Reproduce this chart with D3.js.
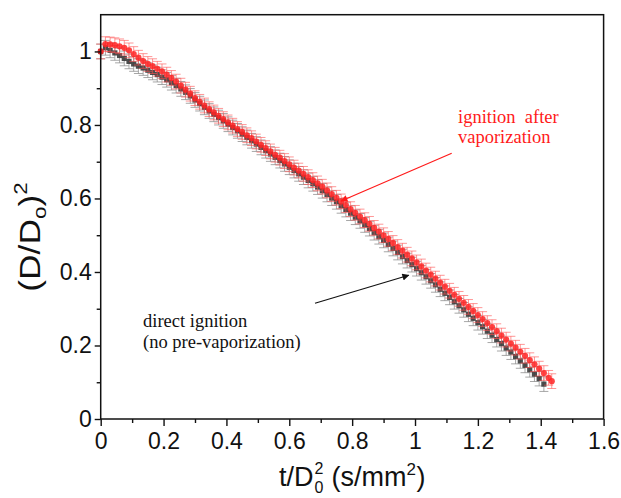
<!DOCTYPE html>
<html><head><meta charset="utf-8">
<script src="https://cdn.jsdelivr.net/npm/d3@7"></script>
<style>body{margin:0;background:#fff}svg{display:block}</style>
</head><body>
<svg id="c" width="621" height="498"></svg>
<script>
// ---- data ----
const redT = [0,0.015,0.03,0.045,0.06,0.075,0.09,0.105,0.12,0.135,0.15,0.165,0.18,0.195,0.21,0.225,0.24,0.255,0.27,0.285,0.3,0.315,0.33,0.345,0.36,0.375,0.39,0.405,0.42,0.435,0.45,0.465,0.48,0.495,0.51,0.525,0.54,0.555,0.57,0.585,0.6,0.615,0.63,0.645,0.66,0.675,0.69,0.705,0.72,0.735,0.75,0.765,0.78,0.795,0.81,0.825,0.84,0.855,0.87,0.885,0.9,0.915,0.93,0.945,0.96,0.975,0.99,1.005,1.02,1.035,1.05,1.065,1.08,1.095,1.11,1.125,1.14,1.155,1.17,1.185,1.2,1.215,1.23,1.245,1.26,1.275,1.29,1.305,1.32,1.335,1.35,1.365,1.38,1.395,1.41,1.425,1.435];
const redY = [1.000,1.020,1.019,1.017,1.014,1.010,1.003,0.993,0.983,0.974,
0.966,0.960,0.953,0.946,0.937,0.928,0.918,0.907,0.896,0.885,
0.873,0.863,0.853,0.843,0.834,0.825,0.816,0.807,0.798,0.789,
0.781,0.772,0.764,0.755,0.746,0.737,0.728,0.719,0.711,0.702,
0.693,0.684,0.676,0.667,0.658,0.650,0.641,0.632,0.622,0.612,
0.602,0.592,0.582,0.571,0.561,0.551,0.541,0.531,0.520,0.510,
0.500,0.490,0.479,0.468,0.458,0.447,0.437,0.426,0.415,0.404,
0.393,0.382,0.371,0.360,0.349,0.338,0.327,0.316,0.305,0.294,
0.283,0.272,0.261,0.250,0.239,0.227,0.216,0.205,0.194,0.183,
0.172,0.160,0.149,0.137,0.125,0.112,0.103];
const blackT = [0,0.015,0.03,0.045,0.06,0.075,0.09,0.105,0.12,0.135,0.15,0.165,0.18,0.195,0.21,0.225,0.24,0.255,0.27,0.285,0.3,0.315,0.33,0.345,0.36,0.375,0.39,0.405,0.42,0.435,0.45,0.465,0.48,0.495,0.51,0.525,0.54,0.555,0.57,0.585,0.6,0.615,0.63,0.645,0.66,0.675,0.69,0.705,0.72,0.735,0.75,0.765,0.78,0.795,0.81,0.825,0.84,0.855,0.87,0.885,0.9,0.915,0.93,0.945,0.96,0.975,0.99,1.005,1.02,1.035,1.05,1.065,1.08,1.095,1.11,1.125,1.14,1.155,1.17,1.185,1.2,1.215,1.23,1.245,1.26,1.275,1.29,1.305,1.32,1.335,1.35,1.365,1.38,1.395,1.41];
const blackY = [1.000,1.010,1.003,0.996,0.989,0.981,0.973,0.966,0.960,0.955,
0.949,0.943,0.937,0.930,0.923,0.915,0.907,0.898,0.889,0.879,
0.868,0.858,0.848,0.838,0.829,0.820,0.811,0.802,0.793,0.784,
0.775,0.766,0.757,0.748,0.739,0.730,0.721,0.712,0.703,0.694,
0.685,0.676,0.667,0.658,0.649,0.640,0.631,0.621,0.611,0.601,
0.591,0.580,0.570,0.560,0.549,0.539,0.528,0.518,0.507,0.496,
0.486,0.475,0.464,0.453,0.442,0.431,0.420,0.409,0.398,0.387,
0.376,0.365,0.353,0.342,0.331,0.319,0.308,0.297,0.285,0.274,
0.262,0.251,0.239,0.228,0.216,0.205,0.193,0.182,0.170,0.158,
0.146,0.134,0.122,0.110,0.095];
const redErr = 0.02, blackErr = 0.02;
const xMajor = [0,0.2,0.4,0.6,0.8,1,1.2,1.4,1.6];
const xMinor = [0.1,0.3,0.5,0.7,0.9,1.1,1.3,1.5];
const yMajor = [0,0.2,0.4,0.6,0.8,1];
const yMinor = [0.1,0.3,0.5,0.7,0.9];
const annRed = ["ignition  after","vaporization"];
const annBlack = ["direct ignition","(no pre-vaporization)"];

// ---- chart ----
const svg = d3.select("#c");
const L=100.7,R=603.6,T=14.7,B=419;
const x = d3.scaleLinear([0,1.6],[L,R]);
const y = d3.scaleLinear([0,1.1],[B,T]);
const sans = "'Liberation Sans', Arial, sans-serif";
const serif = "'Liberation Serif', 'Times New Roman', serif";
const fmt = d => d===0 ? "0" : String(+d.toFixed(1));

const black = blackT.map((t,i)=>({t, v:blackY[i]}));
const red = redT.map((t,i)=>({t, v:redY[i]}));

function errBars(data, err, color, op){
  const g = svg.append("g").attr("stroke",color).attr("stroke-opacity",op).attr("stroke-width",1).attr("fill","none");
  g.selectAll("path").data(data).join("path")
   .attr("d", d => {
     const cx=x(d.t), y1=y(d.v+err), y2=y(d.v-err), w=4.5;
     return `M${cx},${y1}V${y2}M${cx-w},${y1}H${cx+w}M${cx-w},${y2}H${cx+w}`;
   });
}
errBars(black, blackErr, "#8a8a8a", 0.75);
svg.append("g").selectAll("rect").data(black).join("rect")
  .attr("x", d=>x(d.t)-2.6).attr("y", d=>y(d.v)-2.6).attr("width",5.2).attr("height",5.2)
  .attr("fill","#3a3a3a").attr("fill-opacity",0.9);
errBars(red, redErr, "#ff5050", 0.6);
svg.append("g").selectAll("circle").data(red).join("circle")
  .attr("cx", d=>x(d.t)).attr("cy", d=>y(d.v)).attr("r",3.1)
  .attr("fill","#ff2323").attr("fill-opacity",0.85);

// axes
svg.append("g").attr("transform",`translate(0,${B})`)
  .call(d3.axisBottom(x).tickValues(xMajor).tickFormat(fmt).tickSize(7).tickPadding(7));
svg.append("g").attr("transform",`translate(0,${B})`)
  .call(d3.axisBottom(x).tickValues(xMinor).tickFormat("").tickSize(4));
svg.append("g").attr("transform",`translate(${L},0)`)
  .call(d3.axisLeft(y).tickValues(yMajor).tickFormat(fmt).tickSize(6).tickPadding(3));
svg.append("g").attr("transform",`translate(${L},0)`)
  .call(d3.axisLeft(y).tickValues(yMinor).tickFormat("").tickSize(4));
svg.selectAll(".domain").remove();
svg.selectAll(".tick line").attr("stroke","#111").attr("stroke-width",1.4);
svg.selectAll(".tick text").attr("font-family",sans).attr("font-size",23).attr("fill","#111");
svg.append("rect").attr("x",L).attr("y",T).attr("width",R-L).attr("height",B-T)
  .attr("fill","none").attr("stroke","#111").attr("stroke-width",1.5);

// x label: t/D(sub 0, sup 2) (s/mm^2)
const lab = svg.append("g").attr("font-family",sans).attr("fill","#111");
const p1 = lab.append("text").attr("font-size",27).attr("x",0).attr("y",0).text("t/D");
const w1 = p1.node().getComputedTextLength();
lab.append("text").attr("font-size",16).attr("x",w1+1).attr("y",-12).text("2");
lab.append("text").attr("font-size",16).attr("x",w1+1).attr("y",7).text("0");
const x2 = w1 + 11 + 7;
const p2 = lab.append("text").attr("font-size",27).attr("x",x2).attr("y",0).text("(s/mm");
const w2 = p2.node().getComputedTextLength();
lab.append("text").attr("font-size",17).attr("x",x2+w2).attr("y",-11).text("2");
const p3 = lab.append("text").attr("font-size",27).attr("x",x2+w2+10).attr("y",0).text(")");
const tot = x2+w2+10+p3.node().getComputedTextLength();
lab.attr("transform",`translate(${(L+R)/2 - tot/2},486)`);

// y label
const yl = svg.append("text").attr("font-family",sans).attr("font-size",30).attr("fill","#111")
  .attr("text-anchor","middle")
  .attr("transform","translate(40,237) rotate(-90) scale(1.18,1)");
yl.append("tspan").text("(D/D");
yl.append("tspan").attr("font-size",19).attr("dy",6).text("o");
yl.append("tspan").attr("dy",-6).text(")");
yl.append("tspan").attr("font-size",19).attr("dy",-13).text("2");

// annotations
const defs = svg.append("defs");
function mk(id,color){
  defs.append("marker").attr("id",id).attr("viewBox","0 0 10 10").attr("refX",9).attr("refY",5)
    .attr("markerWidth",8).attr("markerHeight",7).attr("markerUnits","userSpaceOnUse").attr("orient","auto")
    .append("path").attr("d","M0,0L10,5L0,10z").attr("fill",color);
}
mk("ar","#ff1a1a"); mk("ab","#111");
svg.append("line").attr("x1",451.7).attr("y1",153.3).attr("x2",x(0.765)).attr("y2",y(0.593))
  .attr("stroke","#ff1a1a").attr("stroke-width",1.2).attr("marker-end","url(#ar)");
svg.append("line").attr("x1",315).attr("y1",303.3).attr("x2",x(0.98)).attr("y2",y(0.391))
  .attr("stroke","#111").attr("stroke-width",1.2).attr("marker-end","url(#ab)");
const tr = svg.append("text").attr("font-family",serif).attr("font-size",18.5).attr("fill","#ff1a1a")
  .style("white-space","pre");
tr.append("tspan").attr("x",458).attr("y",123.3).text(annRed[0]);
tr.append("tspan").attr("x",458).attr("y",143.3).text(annRed[1]);
const tb = svg.append("text").attr("font-family",serif).attr("font-size",18.5).attr("fill","#111");
tb.append("tspan").attr("x",143).attr("y",326.7).text(annBlack[0]);
tb.append("tspan").attr("x",143).attr("y",348).text(annBlack[1]);
</script>
</body></html>
